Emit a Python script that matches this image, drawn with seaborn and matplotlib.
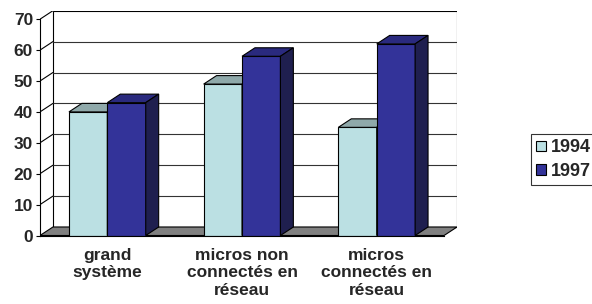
import numpy as np
import pandas as pd
import matplotlib
matplotlib.use('Agg')
import matplotlib.pyplot as plt
from matplotlib.patches import Polygon, Patch
import seaborn as sns

# values
categories = ['grand\nsystème', 'micros non\nconnectés en\nréseau', 'micros\nconnectés en\nréseau']
years = ['1994', '1997']
values_1994 = [40, 49, 35]
values_1997 = [43, 58, 62]
yticks = [0, 10, 20, 30, 40, 50, 60, 70]

front_colors = {'1994': '#BBE0E3', '1997': '#333399'}
top_colors = {'1994': '#8FA9AA', '1997': '#2A2A7E'}
side_colors = {'1994': '#7A9899', '1997': '#1F1F4F'}

df = pd.DataFrame({
    'categorie': categories * 2,
    'annee': ['1994'] * 3 + ['1997'] * 3,
    'valeur': values_1994 + values_1997,
})

sns.set_style('white')
plt.rcParams['font.family'] = ['Liberation Sans', 'DejaVu Sans']
plt.rcParams['font.weight'] = 'bold'

fig = plt.figure(figsize=(5.92, 3.04), dpi=100)
ax = fig.add_axes([40 / 592, 1 - 235.5 / 304, 417 / 592, 224.8 / 304])
ax.set_facecolor('none')

dx = 0.096  # depth in x (data units)
dy = 2.75   # depth in y (data units)
x0, x1 = -0.5, 2.5
ytop = yticks[-1]

sns.barplot(data=df, x='categorie', y='valeur', hue='annee', order=categories,
            hue_order=years, palette=front_colors, width=0.57, ax=ax,
            edgecolor='black', linewidth=0.8, saturation=1, legend=False)

# back wall, floor and left wall
ax.add_patch(Polygon([(x0 + dx, dy), (x1 + dx, dy), (x1 + dx, ytop + dy), (x0 + dx, ytop + dy)],
                     closed=True, facecolor='white', edgecolor='black', lw=0.8, zorder=0.5))
ax.add_patch(Polygon([(x0, 0), (x1, 0), (x1 + dx, dy), (x0 + dx, dy)],
                     closed=True, facecolor='#808080', edgecolor='black', lw=0.8, zorder=0.6))
for yv in yticks[1:-1]:
    ax.plot([x0 + dx, x1 + dx], [yv + dy, yv + dy], color='#333333', lw=0.8, zorder=0.7)
for yv in yticks[1:]:
    ax.plot([x0, x0 + dx], [yv, yv + dy], color='black', lw=0.8, zorder=0.7)

# depth faces of the bars
for z, (year, cont) in enumerate(zip(years, ax.containers)):
    for bar in cont:
        bx0 = bar.get_x()
        bx1 = bx0 + bar.get_width()
        h = bar.get_height()
        bar.set_zorder(3 + 2 * z)
        ax.add_patch(Polygon([(bx0, h), (bx1, h), (bx1 + dx, h + dy), (bx0 + dx, h + dy)],
                             closed=True, facecolor=top_colors[year], edgecolor='black',
                             lw=0.8, zorder=3 + 2 * z))
        ax.add_patch(Polygon([(bx1, 0), (bx1 + dx, dy), (bx1 + dx, h + dy), (bx1, h)],
                             closed=True, facecolor=side_colors[year], edgecolor='black',
                             lw=0.8, zorder=3 + 2 * z))

ax.set_xlim(x0, x1 + dx)
ax.set_ylim(0, ytop + dy)
ax.set_yticks(yticks)
ax.set_yticklabels([str(v) for v in yticks], fontsize=12.5, fontweight='bold')
ax.set_xticks(range(len(categories)))
ax.set_xticklabels(categories, fontsize=12.5, fontweight='bold', linespacing=1.2)
ax.set_xticks([-0.5, 0.5, 1.5, 2.5], minor=True)
ax.tick_params(axis='x', which='major', length=0, pad=9)
ax.tick_params(axis='x', which='minor', length=4, width=0.8, direction='out', color='black')
ax.tick_params(axis='y', length=3, width=0.8, direction='out', color='black', pad=2, left=True)
ax.set_xlabel('')
ax.set_ylabel('')
for s in ['top', 'right']:
    ax.spines[s].set_visible(False)
ax.spines['left'].set_bounds(0, ytop)
ax.spines['bottom'].set_bounds(x0, x1)
for s in ['left', 'bottom']:
    ax.spines[s].set_color('black')
    ax.spines[s].set_linewidth(0.8)
    ax.spines[s].set_zorder(10)
ax.grid(False)

handles = [Patch(facecolor=front_colors[y], edgecolor='black', lw=0.8, label=y) for y in years]
leg = ax.legend(handles=handles, loc='upper left', bbox_to_anchor=(531 / 592, 1 - 134 / 304),
                bbox_transform=fig.transFigure, frameon=True, fancybox=False, shadow=False,
                prop={'size': 13, 'weight': 'bold'}, handlelength=0.55, handleheight=0.55,
                handletextpad=0.25, borderpad=0.3, labelspacing=0.35, borderaxespad=0)
leg.get_frame().set_edgecolor('black')
leg.get_frame().set_linewidth(0.8)

fig.savefig('out.png', dpi=100)
